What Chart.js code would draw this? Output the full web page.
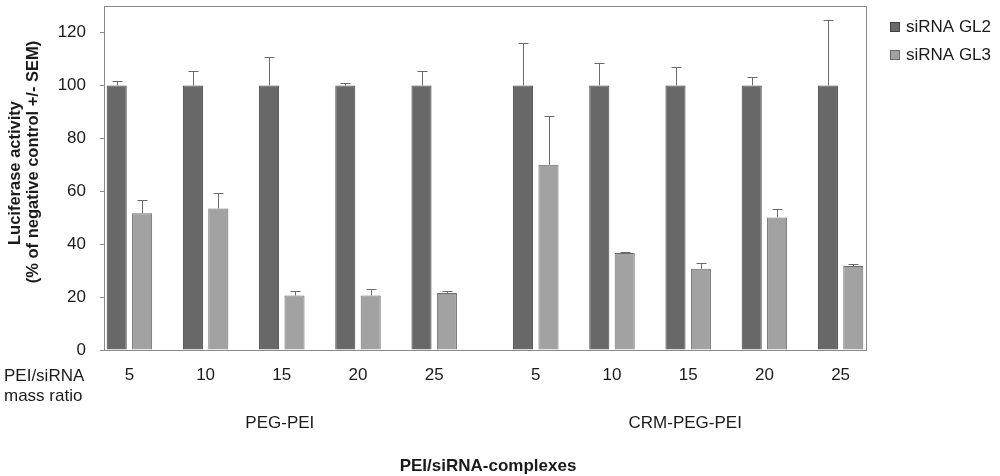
<!DOCTYPE html>
<html>
<head>
<meta charset="utf-8">
<script src="https://cdn.jsdelivr.net/npm/chart.js@4/dist/chart.umd.min.js"></script>
<style>
html,body{margin:0;padding:0;background:#fff;}
#wrap{width:1000px;height:476px;}
</style>
</head>
<body>
<div id="wrap"><canvas id="c" width="1000" height="476"></canvas></div>
<script>
// ---- data ----
const ratioLabels = ['5','10','15','20','25','5','10','15','20','25'];
const groupLabels = ['PEG-PEI','CRM-PEG-PEI'];
const seriesNames = ['siRNA GL2','siRNA GL3'];
const gl2 = [100,100,100,100,100,100,100,100,100,100];
const gl2Sem = [1.7,5.5,10.6,0.8,5.5,16.0,8.6,6.9,3.0,24.7];
const gl3 = [51.7,53.5,20.6,20.6,21.5,70.0,36.7,30.7,50.1,31.7];
const gl3Sem = [4.8,5.9,1.8,2.4,0.7,18.6,0.5,2.1,3.0,0.9];
const yTitle = ['Luciferase activity','(% of negative control +/- SEM)'];
const xRowTitle = ['PEI/siRNA','mass ratio'];
const xTitle = 'PEI/siRNA-complexes';

// slot layout: 3 slots per group, one extra slot gap between the two polymer groups
const slotOf = i => i*3 + (i>=5 ? 1 : 0);
const tickPos = ratioLabels.map((_,i)=>slotOf(i)+1);

const colors = {gl2:'#686868', gl2b:'#404040', gl3:'#a2a2a2', gl3b:'#6a6a6a'};
const FONT = '"Liberation Sans", Arial, sans-serif';

const ds2 = gl2.map((v,i)=>({x:slotOf(i)+0.5, y:v}));
const ds3 = gl3.map((v,i)=>({x:slotOf(i)+1.5, y:v}));

const extras = {
  id:'extras',
  afterDatasetsDraw(chart){
    const ctx = chart.ctx, xs = chart.scales.x, ys = chart.scales.y, a = chart.chartArea;
    ctx.save();
    ctx.strokeStyle = '#6a6a6a';
    ctx.lineWidth = 1;
    const sets = [[ds2, gl2Sem],[ds3, gl3Sem]];
    sets.forEach(([pts, sem])=>{
      pts.forEach((p,i)=>{
        const x = Math.round(xs.getPixelForValue(p.x))+0.5;
        const y0 = ys.getPixelForValue(p.y);
        const y1 = Math.round(ys.getPixelForValue(p.y+sem[i]))+0.5;
        ctx.beginPath();
        ctx.moveTo(x,y0); ctx.lineTo(x,y1);
        ctx.moveTo(x-5,y1); ctx.lineTo(x+5,y1);
        ctx.stroke();
      });
    });
    ctx.strokeStyle = '#8a8a8a';
    ctx.strokeRect(Math.round(a.left)+0.5, Math.round(a.top)+0.5, Math.round(a.right-a.left), Math.round(a.bottom-a.top));
    ctx.restore();
  },
  afterDraw(chart){
    const ctx = chart.ctx, xs = chart.scales.x;
    ctx.save();
    ctx.fillStyle = '#1a1a1a';
    ctx.textBaseline = 'middle';
    ctx.font = '17px ' + FONT;
    ctx.textAlign = 'left';
    ctx.fillText(xRowTitle[0], 4, 376);
    ctx.fillText(xRowTitle[1], 4, 396);
    ctx.textAlign = 'center';
    const g1 = (xs.getPixelForValue(tickPos[0]) + xs.getPixelForValue(tickPos[4]))/2;
    const g2 = (xs.getPixelForValue(tickPos[5]) + xs.getPixelForValue(tickPos[9]))/2;
    ctx.fillText(groupLabels[0], g1-2, 423);
    ctx.fillText(groupLabels[1], g2-3, 423);
    ctx.font = 'bold 17px ' + FONT;
    ctx.fillText(xTitle, 488, 466);
    ctx.font = 'bold 16.5px ' + FONT;
    ctx.save();
    ctx.translate(15.5, 173);
    ctx.rotate(-Math.PI/2);
    ctx.fillText(yTitle[0], 0, 0);
    ctx.restore();
    ctx.save();
    ctx.translate(33, 162);
    ctx.rotate(-Math.PI/2);
    ctx.fillText(yTitle[1], 0, 0);
    ctx.restore();
    const items = [[seriesNames[0], colors.gl2, colors.gl2b, 27],[seriesNames[1], colors.gl3, colors.gl3b, 55]];
    ctx.font = '17px ' + FONT;
    ctx.textAlign = 'left';
    items.forEach(([t,f,b,y])=>{
      ctx.fillStyle = f;
      ctx.fillRect(890.5, y-4.5, 9, 9);
      ctx.strokeStyle = b; ctx.lineWidth = 1;
      ctx.strokeRect(890.5, y-4.5, 9, 9);
      ctx.fillStyle = '#1a1a1a';
      ctx.fillText(t, 906, y);
    });
    ctx.restore();
  }
};

new Chart(document.getElementById('c'), {
  type:'bar',
  data:{
    datasets:[
      {label:seriesNames[0], data:ds2, backgroundColor:colors.gl2, borderColor:colors.gl2b, borderWidth:1},
      {label:seriesNames[1], data:ds3, backgroundColor:colors.gl3, borderColor:colors.gl3b, borderWidth:1}
    ]
  },
  options:{
    responsive:false,
    devicePixelRatio:1,
    animation:false,
    grouped:false,
    categoryPercentage:1,
    barPercentage:0.79,
    layout:{padding:{left:0, top:6, right:134, bottom:0}},
    plugins:{legend:{display:false}, tooltip:{enabled:false}},
    scales:{
      x:{
        type:'linear', min:0, max:30, offset:false,
        grid:{display:false, drawTicks:false},
        border:{display:false},
        afterBuildTicks(s){ s.ticks = tickPos.map(v=>({value:v})); },
        afterFit(s){ s.height = 126; s.paddingLeft = 0; s.paddingRight = 0; },
        ticks:{
          autoSkip:false, maxRotation:0, padding:15,
          color:'#1a1a1a', font:{family:FONT, size:17},
          callback:(v,i)=>ratioLabels[i]
        }
      },
      y:{
        min:0, max:130,
        grid:{drawOnChartArea:false, drawTicks:true, tickLength:4, color:'#8a8a8a'},
        border:{display:false},
        afterFit(s){ s.width = 104; s.paddingTop = 0; s.paddingBottom = 0; },
        ticks:{stepSize:20, includeBounds:false, padding:14, color:'#1a1a1a', font:{family:FONT, size:17}}
      }
    }
  },
  plugins:[extras]
});
</script>
</body>
</html>
